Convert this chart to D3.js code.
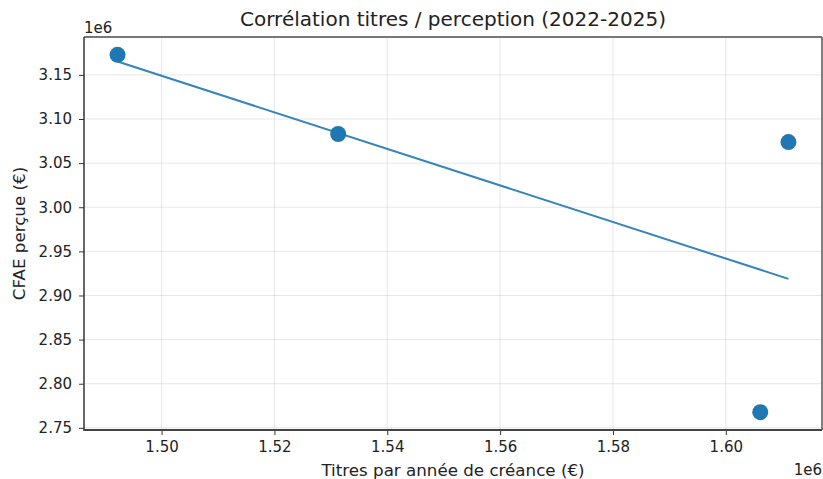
<!DOCTYPE html>
<html><head><meta charset="utf-8">
<script src="https://cdn.jsdelivr.net/npm/d3@7/dist/d3.min.js"></script>
<style>body{margin:0;background:#fff}svg{display:block;font-family:"DejaVu Sans",sans-serif}</style>
</head><body><svg id="c" width="823" height="479"></svg>
<script>
const titresX = [1492200, 1531300, 1611100, 1606100];
const cfaeY = [3172700, 3083000, 3073900, 2767800];
const xTicks = [1.50, 1.52, 1.54, 1.56, 1.58, 1.60];
const yTicks = [2.75, 2.80, 2.85, 2.90, 2.95, 3.00, 3.05, 3.10, 3.15];
const title = "Corrélation titres / perception (2022-2025)";
const xLabel = "Titres par année de créance (€)";
const yLabel = "CFAE perçue (€)";

const svg = d3.select("#c");
const L = 84, R = 822, T = 37, B = 430;
const pad = 0.05;
const xe = d3.extent(titresX), ye = d3.extent(cfaeY);
const xs = d3.scaleLinear().domain([xe[0] - pad*(xe[1]-xe[0]), xe[1] + pad*(xe[1]-xe[0])]).range([L, R]);
const ys = d3.scaleLinear().domain([ye[0] - pad*(ye[1]-ye[0]), ye[1] + pad*(ye[1]-ye[0])]).range([B, T]);

// grid
const g = svg.append("g");
g.selectAll("line.gx").data(xTicks).join("line")
  .attr("x1", d => xs(d*1e6)).attr("x2", d => xs(d*1e6)).attr("y1", T).attr("y2", B)
  .attr("stroke", "#b0b0b0").attr("stroke-opacity", 0.3).attr("stroke-width", 1);
g.selectAll("line.gy").data(yTicks).join("line")
  .attr("y1", d => ys(d*1e6)).attr("y2", d => ys(d*1e6)).attr("x1", L).attr("x2", R)
  .attr("stroke", "#b0b0b0").attr("stroke-opacity", 0.3).attr("stroke-width", 1);

// regression
const n = titresX.length;
const mx = d3.mean(titresX), my = d3.mean(cfaeY);
let sxy = 0, sxx = 0;
for (let i = 0; i < n; i++) { sxy += (titresX[i]-mx)*(cfaeY[i]-my); sxx += (titresX[i]-mx)**2; }
const slope = sxy/sxx, icpt = my - slope*mx;
const lineX = [xe[0], xe[1]];
svg.append("path")
  .attr("d", d3.line().x(d => xs(d)).y(d => ys(slope*d + icpt))(lineX))
  .attr("stroke", "#1f77b4").attr("stroke-opacity", 0.9).attr("stroke-width", 2).attr("fill", "none");

// points
svg.selectAll("circle").data(titresX).join("circle")
  .attr("cx", d => xs(d)).attr("cy", (d,i) => ys(cfaeY[i])).attr("r", 8)
  .attr("fill", "#1f77b4");

// axes
const xAxis = d3.axisBottom(xs).tickValues(xTicks.map(d=>d*1e6)).tickFormat(d => (d/1e6).toFixed(2)).tickSize(5).tickPadding(6);
const yAxis = d3.axisLeft(ys).tickValues(yTicks.map(d=>d*1e6)).tickFormat(d => (d/1e6).toFixed(2)).tickSize(5).tickPadding(7);
const ax = svg.append("g").attr("transform", `translate(0,${B})`).call(xAxis);
const ay = svg.append("g").attr("transform", `translate(${L},0)`).call(yAxis);
[ax, ay].forEach(a => {
  a.select(".domain").remove();
  a.selectAll("line").attr("stroke", "#333").attr("stroke-width", 1);
  a.selectAll("text").attr("fill", "#222").attr("font-size", 15).attr("font-family", "DejaVu Sans");
});

// spines
svg.append("line").attr("x1", L).attr("x2", R).attr("y1", T).attr("y2", T).attr("stroke", "#777").attr("stroke-width", 2);
svg.append("line").attr("x1", R).attr("x2", R).attr("y1", T).attr("y2", B).attr("stroke", "#555").attr("stroke-width", 1.5);
svg.append("line").attr("x1", L).attr("x2", L).attr("y1", T).attr("y2", B+1).attr("stroke", "#333").attr("stroke-width", 1.5);
svg.append("line").attr("x1", L).attr("x2", R).attr("y1", B).attr("y2", B).attr("stroke", "#444").attr("stroke-width", 1.8);

// texts
svg.append("text").attr("x", (L+R)/2).attr("y", 26).attr("text-anchor", "middle")
  .attr("font-size", 20).attr("fill", "#222").text(title);
svg.append("text").attr("x", (L+R)/2).attr("y", 476).attr("text-anchor", "middle")
  .attr("font-size", 16.7).attr("fill", "#222").text(xLabel);
svg.append("text").attr("transform", `translate(25,${(T+B)/2}) rotate(-90)`).attr("text-anchor", "middle")
  .attr("font-size", 16.7).attr("fill", "#222").text(yLabel);
svg.append("text").attr("x", L).attr("y", 33).attr("font-size", 15).attr("fill", "#222").text("1e6");
svg.append("text").attr("x", R).attr("y", 475).attr("text-anchor", "end").attr("font-size", 15).attr("fill", "#222").text("1e6");
</script></body></html>
